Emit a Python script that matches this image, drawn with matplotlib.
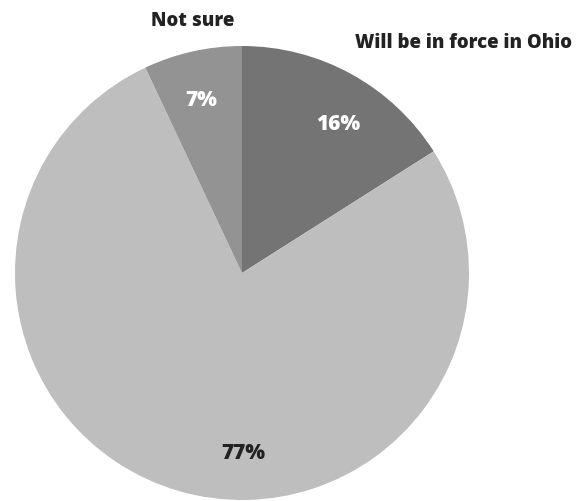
import matplotlib.pyplot as plt

plt.rcParams['font.family'] = ['Open Sans', 'DejaVu Sans']

categories = ['Will be in force in Ohio', 'Will not be in force in Ohio', 'Not sure']
shares = [16, 77, 7]
colors = ['#747474', '#bebebe', '#939393']
show_name = [True, False, True]

# label placement in pixel coordinates (y measured from the bottom)
name_pos = [(463, 459), None, (193, 481)]
pct_pos = [(338, 378), (243, 48), (201, 401)]
pct_color = ['white', '#222222', 'white']

fig = plt.figure(figsize=(5.82, 5.02), dpi=100)
ax = fig.add_axes([0, 0, 1, 1])

ax.pie(shares, colors=colors, startangle=90, counterclock=False,
       center=(242, 228), radius=227, frame=True,
       wedgeprops=dict(linewidth=0))
ax.set_xlim(0, 582)
ax.set_ylim(0, 502)
ax.set_aspect('equal')
ax.axis('off')

for i, cat in enumerate(categories):
    if show_name[i]:
        ax.text(*name_pos[i], cat, ha='center', va='center',
                fontsize=13.4, fontweight='heavy', color='#222222')
    ax.text(*pct_pos[i], f'{shares[i]}%', ha='center', va='center',
            fontsize=15, fontweight='heavy', color=pct_color[i])

fig.savefig('out.png', dpi=100)
